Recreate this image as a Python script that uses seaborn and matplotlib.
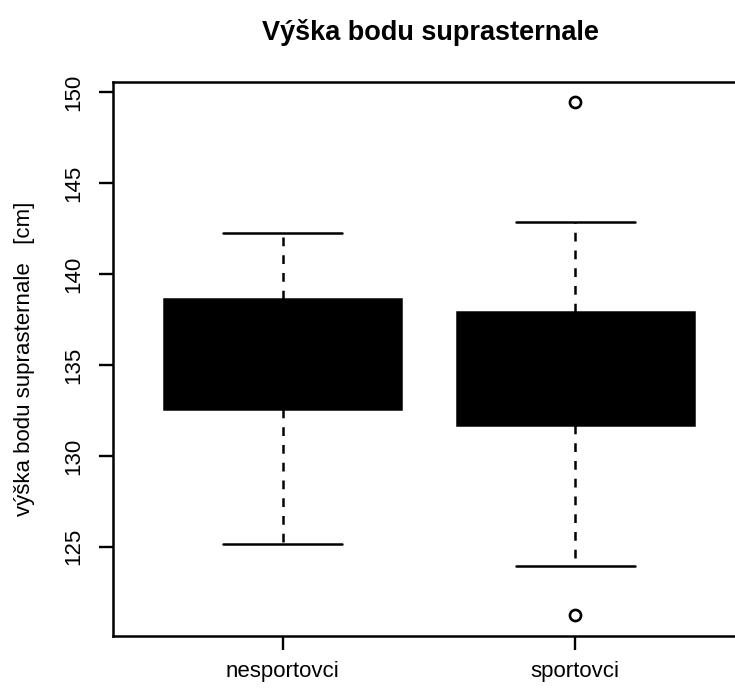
import matplotlib
matplotlib.use("Agg")
import matplotlib.pyplot as plt
import seaborn as sns

# ---- data ----
groups = ["nesportovci", "sportovci"]
whisker_low = [125.15, 123.95]
q1 = [132.55, 131.7]
median = [135.6, 135.0]
q3 = [138.6, 137.9]
whisker_high = [142.25, 142.85]
outliers = [[], [149.45, 121.25]]

title = "Výška bodu suprasternale"
ylabel = "výška bodu suprasternale   [cm]"
yticks = [125, 130, 135, 140, 145, 150]

sns.set_style("ticks")
plt.rcParams["font.family"] = ["Liberation Sans", "DejaVu Sans"]
plt.rcParams["text.color"] = "black"
plt.rcParams["axes.labelcolor"] = "black"
plt.rcParams["xtick.color"] = "black"
plt.rcParams["ytick.color"] = "black"

fig = plt.figure(figsize=(7.35, 6.89), dpi=100)
ax = fig.add_axes([113 / 735, 1 - 636 / 689, (745 - 113) / 735, (636 - 82) / 689])

stats = []
for i, g in enumerate(groups):
    stats.append(dict(label=g, whislo=whisker_low[i], q1=q1[i], med=median[i],
                      q3=q3[i], whishi=whisker_high[i], fliers=outliers[i]))

lw = 1.8
ax.bxp(stats, positions=[1, 2], widths=0.81, patch_artist=True,
       boxprops=dict(facecolor="black", edgecolor="black", linewidth=lw),
       medianprops=dict(color="black", linewidth=lw),
       whiskerprops=dict(color="black", linewidth=lw, linestyle=(0, (3.5, 3.6))),
       capprops=dict(color="black", linewidth=lw),
       capwidths=0.405,
       flierprops=dict(marker="o", markersize=8, markerfacecolor="white",
                       markeredgecolor="black", markeredgewidth=1.9))

ax.set_xlim(0.42, 2.58)
ax.set_ylim(120.1, 150.55)
ax.set_yticks(yticks)
ax.set_yticklabels([str(t) for t in yticks], rotation=90, va="center", fontsize=16)
ax.set_xticks([1, 2])
ax.set_xticklabels(groups, fontsize=16)
ax.tick_params(axis="both", length=10, width=1.7, color="black")
ax.tick_params(axis="x", pad=8)
ax.tick_params(axis="y", pad=11)
for s in ax.spines.values():
    s.set_linewidth(1.8)
    s.set_color("black")

ax.set_ylabel(ylabel, fontsize=16)
ax.yaxis.set_label_coords(-0.124, 0.5)
fig.text(430 / 735, 1 - 32 / 689, title, ha="center", va="center",
         fontsize=19.5, fontweight="bold")

fig.savefig("out.png", dpi=100)
